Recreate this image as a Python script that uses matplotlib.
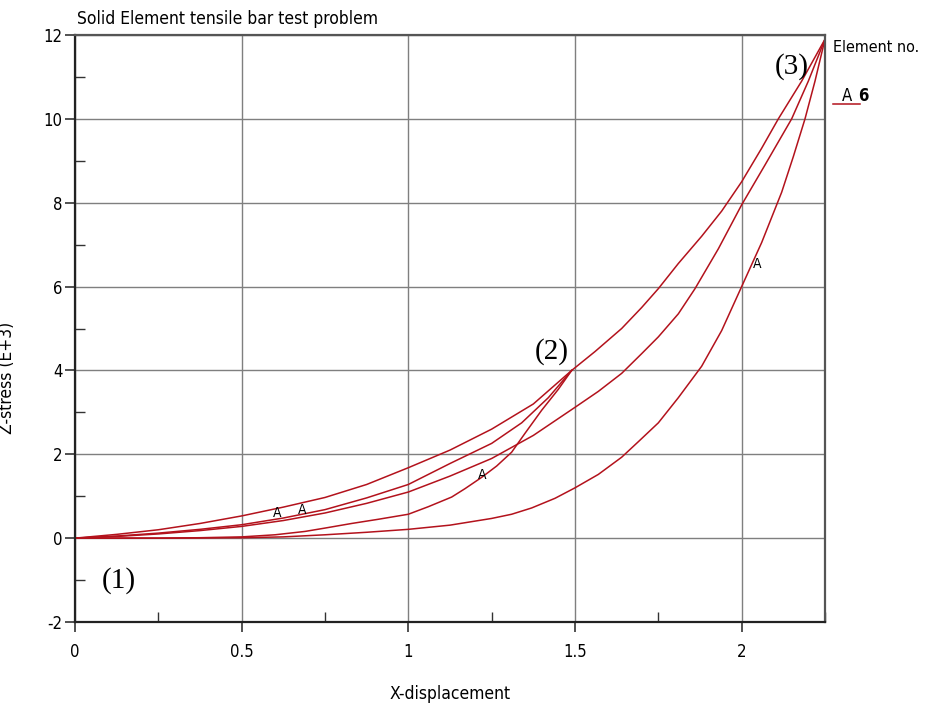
import matplotlib
matplotlib.use("Agg")
import matplotlib.pyplot as plt
from matplotlib.ticker import MultipleLocator

plt.rcParams["axes.unicode_minus"] = False

NARROW = ["DejaVu Sans"]
SERIF = ["Liberation Serif", "DejaVu Serif"]
RED = "#b3121c"

# load path (1) -> (2) -> (3)
load_x = [0, 0.125, 0.25, 0.375, 0.5, 0.625, 0.75, 0.875, 1.0, 1.125, 1.25, 1.375, 1.49,
          1.56, 1.64, 1.7, 1.75, 1.81, 1.88, 1.94, 2.0, 2.06, 2.11, 2.18, 2.25]
load_y = [0, 0.09, 0.2, 0.35, 0.53, 0.74, 0.97, 1.28, 1.68, 2.1, 2.6, 3.2, 4.0,
          4.45, 5.0, 5.5, 5.95, 6.55, 7.2, 7.8, 8.5, 9.3, 10.0, 10.9, 11.9]

# reload (1) -> (2)
reload1_x = [0, 0.125, 0.25, 0.375, 0.5, 0.625, 0.75, 0.875, 1.0, 1.125, 1.25, 1.34, 1.42, 1.49]
reload1_y = [0, 0.05, 0.12, 0.21, 0.32, 0.48, 0.68, 0.96, 1.28, 1.78, 2.26, 2.75, 3.35, 4.0]

# reload (1) -> (3)
reload2_x = [0, 0.125, 0.25, 0.375, 0.5, 0.625, 0.75, 0.875, 1.0, 1.125, 1.25, 1.375, 1.5,
             1.57, 1.64, 1.7, 1.75, 1.81, 1.86, 1.93, 2.0, 2.07, 2.15, 2.2, 2.25]
reload2_y = [0, 0.04, 0.1, 0.18, 0.28, 0.42, 0.6, 0.83, 1.1, 1.48, 1.9, 2.45, 3.12,
             3.5, 3.93, 4.4, 4.8, 5.35, 5.95, 6.9, 7.95, 8.9, 10.0, 10.9, 11.9]

# unload (2) -> (1)
unload1_x = [1.49, 1.45, 1.4, 1.35, 1.31, 1.265, 1.22, 1.17, 1.13, 1.06, 1.0, 0.91, 0.83,
             0.75, 0.69, 0.6, 0.5, 0.375, 0.25, 0]
unload1_y = [4.0, 3.55, 3.05, 2.5, 2.05, 1.72, 1.45, 1.18, 0.98, 0.75, 0.57, 0.45, 0.35,
             0.24, 0.16, 0.08, 0.03, 0.01, 0, 0]

# unload (3) -> (1)
unload2_x = [2.25, 2.22, 2.19, 2.155, 2.12, 2.06, 2.0, 1.94, 1.88, 1.81, 1.75, 1.69, 1.64,
             1.57, 1.5, 1.44, 1.37, 1.31, 1.25, 1.125, 1.0, 0.875, 0.75, 0.625, 0.5, 0.25, 0]
unload2_y = [11.9, 10.9, 10.0, 9.1, 8.25, 7.05, 6.0, 4.95, 4.1, 3.35, 2.75, 2.3, 1.93,
             1.52, 1.2, 0.95, 0.72, 0.57, 0.47, 0.31, 0.21, 0.14, 0.08, 0.03, 0.01, 0, 0]

branches = [(load_x, load_y), (reload1_x, reload1_y), (reload2_x, reload2_y),
            (unload1_x, unload1_y), (unload2_x, unload2_y)]

# curve symbol labels along the curve
label_x = [0.607, 0.682, 1.222, 2.045]
label_y = [0.6, 0.67, 1.5, 6.55]

# state markers
state_text = ["(1)", "(2)", "(3)"]
state_x = [0.13, 1.43, 2.15]
state_y = [-1.0, 4.45, 11.25]

fig = plt.figure(figsize=(9.25, 7.04), dpi=100)
ax = fig.add_axes([75 / 925, 82 / 704, 750 / 925, 587 / 704])

for bx, by in branches:
    ax.plot(bx, by, color=RED, lw=1.1)

for lx, ly in zip(label_x, label_y):
    ax.text(lx, ly, "A", ha="center", va="center", fontsize=10, family=NARROW,
            fontstretch="condensed")

for t, sx, sy in zip(state_text, state_x, state_y):
    ax.text(sx, sy, t, ha="center", va="center", fontsize=21, family=SERIF)

ax.set_xlim(0, 2.25)
ax.set_ylim(-2, 12)
ax.xaxis.set_major_locator(MultipleLocator(0.5))
ax.xaxis.set_minor_locator(MultipleLocator(0.25))
ax.yaxis.set_major_locator(MultipleLocator(2))
ax.yaxis.set_minor_locator(MultipleLocator(1))
ax.set_xticks([0, 0.5, 1, 1.5, 2])
ax.set_xticklabels(["0", "0.5", "1", "1.5", "2"])
ax.grid(True, which="major", color="#7f7f7f", lw=1.0)
ax.tick_params(which="major", direction="out", length=7, width=1.2, color="#333333",
               labelsize=12)
ax.tick_params(which="minor", direction="in", length=7, width=1.0, color="#333333")
ax.tick_params(axis="x", which="major", pad=8)
ax.tick_params(axis="y", which="major", pad=2)
for lab in ax.get_xticklabels() + ax.get_yticklabels():
    lab.set_family(NARROW)
    lab.set_fontstretch("condensed")

for side in ["left", "bottom"]:
    ax.spines[side].set_color("#222222")
    ax.spines[side].set_linewidth(1.6)
for side in ["top", "right"]:
    ax.spines[side].set_color("#555555")
    ax.spines[side].set_linewidth(1.6)

ax.text(0.003, 1.012, "Solid Element tensile bar test problem", transform=ax.transAxes,
        ha="left", va="bottom", fontsize=12.5, family=NARROW, fontstretch="condensed")
ax.set_xlabel("X-displacement", fontsize=12.5, family=NARROW, fontstretch="condensed")
ax.xaxis.set_label_coords(0.5, -0.108)
ax.set_ylabel("Z-stress (E+3)", fontsize=12.5, family=NARROW, fontstretch="condensed")
ax.yaxis.set_label_coords(-0.078, 0.416)

# legend
ax.text(1.011, 0.978, "Element no.", transform=ax.transAxes, ha="left", va="center",
        fontsize=11.5, family=NARROW, fontstretch="condensed")
ax.plot([1.011, 1.047], [0.882, 0.882], transform=ax.transAxes, color=RED, lw=1.1,
        clip_on=False)
ax.text(1.029, 0.896, "A", transform=ax.transAxes, ha="center", va="center",
        fontsize=12, family=NARROW, fontstretch="condensed")
ax.text(1.051, 0.896, "6", transform=ax.transAxes, ha="center", va="center",
        fontsize=12, family=NARROW, fontstretch="condensed", fontweight="bold")

fig.savefig("out.png", dpi=100)
